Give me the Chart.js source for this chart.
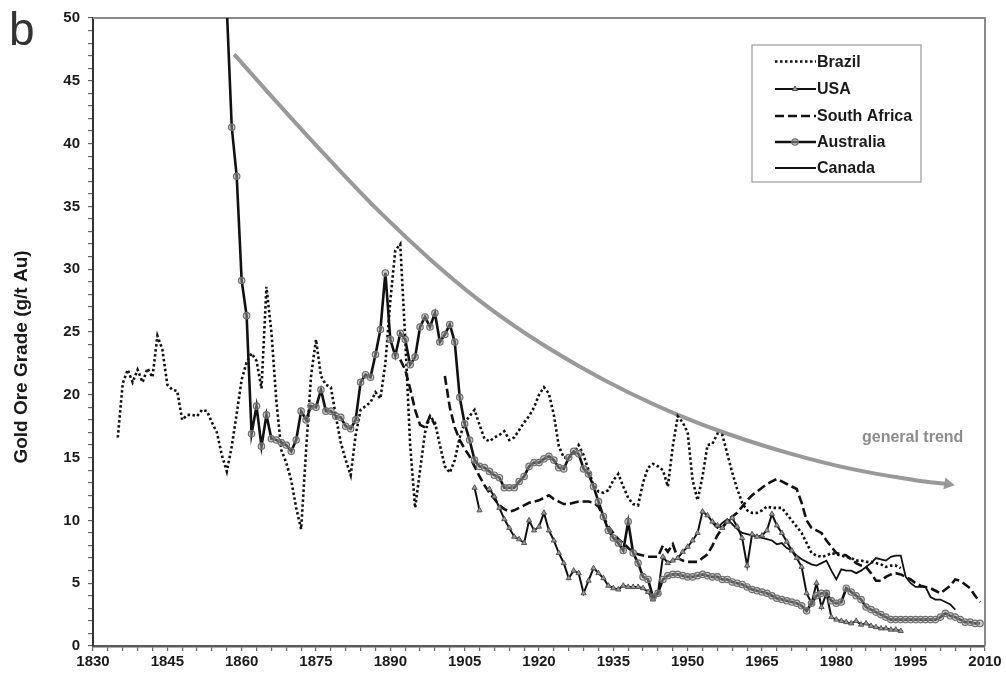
<!DOCTYPE html>
<html>
<head>
<meta charset="utf-8">
<title>Gold ore grade</title>
<script src="https://cdn.jsdelivr.net/npm/chart.js@4.4.0/dist/chart.umd.min.js"></script>
<style>
  html, body { margin: 0; padding: 0; background: #fff; }
  #wrap { width: 1006px; height: 677px; }
</style>
</head>
<body>
<div id="wrap"><canvas id="gradeChart" width="1006" height="677"></canvas></div>
<script>
// --- data (g/t Au, one value per year from the start year) ---
const brazilStart = 1835;
const brazilGrade = [
  16.6, 20.9, 22.0, 21.0, 22.0, 21.0, 22.1, 21.4, 24.7, 23.6,
  20.8, 20.4, 20.3, 18.0, 18.4, 18.4, 18.3, 18.8, 18.7, 17.8,
  17.0, 15.2, 13.9, 15.9, 18.5, 21.2, 22.6, 23.3, 22.7, 20.5,
  28.6, 25.0, 19.5, 15.6, 14.6, 13.2, 11.0, 9.3, 15.6, 21.5,
  24.4, 21.5, 20.8, 20.6, 18.3, 16.2, 14.8, 13.6, 16.8, 18.8,
  19.1, 19.4, 20.2, 19.7, 22.5, 27.5, 31.5, 32.0, 24.5, 16.0,
  11.0, 14.0, 17.0, 18.3, 17.8, 16.0, 14.3, 13.8, 14.8, 16.6,
  17.8, 18.3, 18.8, 17.6, 16.5, 16.3, 16.6, 16.8, 17.1, 16.4,
  16.6, 17.2, 17.8, 18.3, 19.0, 20.0, 20.6, 20.1, 18.4, 15.9,
  15.0, 15.0, 15.3, 16.0, 15.2, 14.0, 12.8, 12.3, 12.2, 12.4,
  13.2, 13.7, 12.7, 11.8, 11.3, 11.2, 13.0, 14.2, 14.5, 14.3,
  14.0, 12.7, 15.9, 18.3, 17.8, 17.0, 13.2, 11.6, 13.5, 16.0,
  16.1, 16.9, 16.8, 15.3, 13.8, 12.5, 11.4, 10.8, 10.6, 10.6,
  10.8, 11.1, 11.0, 11.0, 11.0, 10.5, 10.0, 9.5, 9.0, 8.2,
  7.4, 7.2, 7.1, 7.2, 7.4, 7.3, 7.2, 7.1, 7.0, 6.8,
  6.8, 6.7, 6.7, 6.6, 6.5, 6.3, 6.4, 6.4, 6.2
];

const usaStart = 1907;
const usaGrade = [
  12.6, 10.8, null, 12.5, 11.9, 11.0, 10.1, 9.4, 8.7, 8.5,
  8.2, 10.0, 9.2, 9.5, 10.6, 9.2, 8.4, 7.4, 6.6, 5.4,
  6.0, 5.8, 4.2, 5.2, 6.2, 5.8, 5.4, 4.8, 4.6, 4.5,
  4.8, 4.7, 4.7, 4.7, 4.6, 4.3, 3.7, 4.2, 7.1, 6.6,
  6.8, 7.0, 7.5, 7.9, 8.4, 9.0, 10.7, 10.4, 9.9, 9.6,
  9.4, 9.9, 10.2, 9.5, 8.6, 6.4, 8.9, 8.7, 8.8, 9.2,
  10.5, 9.6, 9.0, 8.3, 7.6, 7.0, 6.3, 4.2, 3.4, 5.0,
  3.1, 4.2, 2.3, 2.1, 2.0, 1.9, 1.8, 2.0, 1.7, 1.8,
  1.6, 1.5, 1.4, 1.4, 1.3, 1.3, 1.2
];

const southAfricaStart = 1892;
const southAfricaGrade = [
  22.8, 22.0, 20.5, 18.8, 17.6, 17.4, 18.3, 17.6, null, 21.5,
  19.0, 17.4, 16.4, 15.7, 15.1, 14.3, 13.5, 12.8, 12.2, 11.7,
  11.2, 10.9, 10.7, 10.8, 11.0, 11.2, 11.4, 11.5, 11.6, 11.8,
  12.0, 11.7, 11.5, 11.3, 11.3, 11.4, 11.5, 11.5, 11.5, 11.4,
  11.1, 10.3, 9.5, 9.0, 8.5, 8.2, 7.8, 7.5, 7.3, 7.2,
  7.1, 7.1, 7.1, 8.0, 7.5, 8.1, 7.0, 6.8, 6.7, 6.7,
  6.7, 7.0, 7.3, 8.0, 8.8, 9.4, 10.0, 10.3, 10.6, 11.1,
  11.6, 12.0, 12.3, 12.6, 12.9, 13.1, 13.3, 13.1, 12.9, 12.7,
  12.5, 11.4, 10.0, 9.4, 9.2, 9.0, 8.4, 7.9, 7.4, 7.3,
  7.2, 6.9, 6.6, 6.4, 6.3, 5.8, 5.2, 5.2, 5.5, 5.7,
  5.8, 5.7, 5.5, 5.3, 5.0, 4.8, 4.7, 4.6, 4.4, 4.2,
  4.5, 4.8, 5.3, 5.2, 4.9, 4.6, 4.0, 3.5
];

const australiaStart = 1857;
const australiaGrade = [
  50.8, 41.3, 37.4, 29.1, 26.3, 16.9, 19.1, 15.9, 18.4, 16.5,
  16.4, 16.2, 16.0, 15.5, 16.4, 18.7, 18.0, 19.1, 19.0, 20.4,
  18.7, 18.7, 18.3, 18.2, 17.5, 17.3, 18.0, 21.0, 21.6, 21.4,
  23.2, 25.2, 29.7, 24.4, 23.1, 24.9, 24.4, 22.4, 23.0, 25.4,
  26.2, 25.4, 26.5, 24.2, 24.8, 25.6, 24.2, 19.8, 17.7, 16.4,
  14.8, 14.3, 14.2, 13.9, 13.6, 13.4, 12.6, 12.6, 12.6, 13.1,
  13.5, 14.3, 14.6, 14.6, 14.9, 15.1, 14.8, 14.2, 14.1, 15.0,
  15.5, 15.3, 14.1, 13.7, 12.7, 11.5, 10.3, 9.2, 8.6, 8.2,
  7.6, 9.9, 7.4, 6.6, 5.5, 5.3, 3.9, 4.2, 5.3, 5.6,
  5.7, 5.7, 5.6, 5.5, 5.5, 5.6, 5.7, 5.6, 5.5, 5.5,
  5.3, 5.3, 5.1, 5.0, 4.9, 4.7, 4.5, 4.4, 4.3, 4.2,
  4.0, 3.8, 3.7, 3.6, 3.5, 3.4, 3.2, 2.8, 3.4, 4.0,
  4.2, 4.2, 3.6, 3.4, 3.5, 4.6, 4.3, 4.0, 3.7, 3.1,
  2.9, 2.7, 2.5, 2.3, 2.1, 2.1, 2.1, 2.1, 2.1, 2.1,
  2.1, 2.1, 2.1, 2.1, 2.3, 2.6, 2.4, 2.3, 2.1, 1.9,
  1.9, 1.8, 1.8
];

const canadaStart = 1955;
const canadaGrade = [
  9.8, 9.4, 9.8, 10.1, 9.7, 9.3, 9.0, 8.9, 8.8, 8.7,
  8.6, 8.5, 8.4, 8.1, 8.2, 7.8, 7.6, 7.2, 6.9, 6.7,
  6.5, 6.4, 6.6, 6.8, 6.0, 5.3, 6.1, 6.0, 6.0, 5.8,
  6.0, 6.3, 6.6, 7.0, 6.9, 6.8, 7.1, 7.2, 7.2, 5.5,
  5.0, 4.7, 4.7, 4.7, 3.9, 3.7, 3.7, 3.5, 3.3, 2.9
];

// hand-drawn "general trend" curve, points read along it
const trendYears = [1858.5, 1868, 1878, 1888, 1898, 1908, 1918, 1928, 1938, 1948, 1958, 1970, 1983, 1996, 2002.5];
const trendGrade = [47.1, 42.9, 38.6, 34.5, 30.8, 27.5, 24.7, 22.3, 20.2, 18.4, 16.9, 15.4, 14.1, 13.2, 12.9];

const xTickLabels = [1830, 1845, 1860, 1875, 1890, 1905, 1920, 1935, 1950, 1965, 1980, 1995, 2010];
const yTickLabels = [0, 5, 10, 15, 20, 25, 30, 35, 40, 45, 50];

const FONT = '"Liberation Sans", Arial, sans-serif';

function toPoints(start, values) {
    return values.map((v, i) => ({ x: start + i, y: v }));
}

// legend box drawn inside the plot, like the original
const insetLegend = {
    id: 'insetLegend',
    afterDraw(chart) {
        const ctx = chart.ctx;
        const box = { x: 752, y: 45, w: 169, h: 137 };
        ctx.save();
        ctx.fillStyle = '#fff';
        ctx.fillRect(box.x, box.y, box.w, box.h);
        ctx.strokeStyle = '#9a9a9a';
        ctx.lineWidth = 1.2;
        ctx.strokeRect(box.x, box.y, box.w, box.h);

        const rows = [61.5, 89, 116, 142, 168];
        const items = chart.data.datasets.filter(d => d.inLegend);
        items.forEach((ds, i) => {
            const y = rows[i];
            ctx.beginPath();
            ctx.setLineDash(ds.borderDash || []);
            ctx.lineWidth = ds.borderWidth;
            ctx.strokeStyle = ds.borderColor;
            ctx.moveTo(775, y);
            ctx.lineTo(816, y);
            ctx.stroke();
            ctx.setLineDash([]);
            if (ds.legendMarker) {
                ctx.fillStyle = ds.pointBackgroundColor;
                ctx.strokeStyle = ds.pointBorderColor;
                ctx.lineWidth = ds.pointBorderWidth;
                Chart.helpers.drawPoint(ctx, {
                    pointStyle: ds.pointStyle, radius: ds.pointRadius,
                    borderWidth: ds.pointBorderWidth, rotation: 0
                }, 795, y);
            }
            ctx.fillStyle = '#1a1a1a';
            ctx.font = 'bold 16px ' + FONT;
            ctx.textBaseline = 'middle';
            ctx.textAlign = 'left';
            ctx.fillText(ds.label, 817, y + 1);
        });
        ctx.restore();
    }
};

// frame, axis title, panel letter and trend label
const decorations = {
    id: 'decorations',
    beforeDatasetsDraw(chart) {
        const a = chart.chartArea;
        const ctx = chart.ctx;
        ctx.save();
        ctx.strokeStyle = '#8a8a8a';
        ctx.lineWidth = 2;
        ctx.beginPath();
        ctx.moveTo(a.left, a.top);
        ctx.lineTo(a.right, a.top);
        ctx.lineTo(a.right, a.bottom);
        ctx.stroke();
        ctx.restore();
    },
    afterDraw(chart) {
        const ctx = chart.ctx;
        ctx.save();
        ctx.fillStyle = '#333';
        ctx.font = '46px ' + FONT;
        ctx.textBaseline = 'alphabetic';
        ctx.textAlign = 'left';
        ctx.fillText('b', 9, 45);

        ctx.fillStyle = '#8c8c8c';
        ctx.font = 'bold 16px ' + FONT;
        ctx.textBaseline = 'middle';
        ctx.fillText('general trend', 862, 438);

        ctx.translate(22, 357);
        ctx.rotate(-Math.PI / 2);
        ctx.fillStyle = '#1a1a1a';
        ctx.font = 'bold 19px ' + FONT;
        ctx.textAlign = 'center';
        ctx.fillText('Gold Ore Grade (g/t Au)', 0, 0);
        ctx.restore();
    }
};

const ctx = document.getElementById('gradeChart');
const lastTrend = trendYears.length - 1;

new Chart(ctx, {
    type: 'line',
    data: {
        datasets: [
            {
                label: 'Brazil',
                inLegend: true,
                data: toPoints(brazilStart, brazilGrade),
                borderColor: '#111',
                borderWidth: 2.6,
                borderDash: [2.5, 2.5],
                pointRadius: 0,
                order: 4
            },
            {
                label: 'USA',
                inLegend: true,
                legendMarker: true,
                data: toPoints(usaStart, usaGrade),
                borderColor: '#111',
                borderWidth: 2,
                pointStyle: 'triangle',
                pointRadius: 3,
                pointBorderWidth: 1,
                pointBorderColor: '#555',
                pointBackgroundColor: '#9a9a9a',
                order: 2
            },
            {
                label: 'South Africa',
                inLegend: true,
                data: toPoints(southAfricaStart, southAfricaGrade),
                borderColor: '#111',
                borderWidth: 2.6,
                borderDash: [9, 4],
                pointRadius: 0,
                order: 3
            },
            {
                label: 'Australia',
                inLegend: true,
                legendMarker: true,
                data: toPoints(australiaStart, australiaGrade),
                borderColor: '#111',
                borderWidth: 2.6,
                pointStyle: 'circle',
                pointRadius: 3.2,
                pointBorderWidth: 1.2,
                pointBorderColor: '#707070',
                pointBackgroundColor: 'rgba(160,160,160,0.5)',
                order: 1
            },
            {
                label: 'Canada',
                inLegend: true,
                data: toPoints(canadaStart, canadaGrade),
                borderColor: '#111',
                borderWidth: 1.8,
                pointRadius: 0,
                order: 5
            },
            {
                label: 'general trend',
                data: trendYears.map((y, i) => ({ x: y, y: trendGrade[i] })),
                borderColor: '#999',
                borderWidth: 4,
                tension: 0.4,
                pointStyle: 'triangle',
                pointRadius: c => c.dataIndex === lastTrend ? 7 : 0,
                pointRotation: 100,
                pointBorderWidth: 0,
                pointBackgroundColor: '#999',
                pointBorderColor: '#999',
                order: 10
            }
        ]
    },
    options: {
        responsive: false,
        animation: false,
        devicePixelRatio: 1,
        layout: { padding: { top: 18, right: 21, left: 0, bottom: 0 } },
        plugins: {
            legend: { display: false },
            tooltip: { enabled: false }
        },
        scales: {
            x: {
                type: 'linear',
                min: 1830,
                max: 2010,
                afterFit: s => { s.height = 31; },
                border: { display: true, color: '#5a5a5a', width: 2.5 },
                grid: { drawOnChartArea: false, drawTicks: true, tickLength: 5, tickColor: '#666', lineWidth: 1.2 },
                ticks: {
                    stepSize: 3,
                    maxTicksLimit: 1000,
                    autoSkip: false,
                    maxRotation: 0,
                    padding: 2,
                    color: '#1a1a1a',
                    font: { family: FONT, size: 15, weight: 'bold' },
                    callback: v => xTickLabels.includes(v) ? String(v) : ''
                }
            },
            y: {
                min: 0,
                max: 50,
                afterFit: s => { s.width = 93; },
                border: { display: true, color: '#333', width: 2 },
                grid: { drawOnChartArea: false, drawTicks: true, tickLength: 5, tickColor: '#666', lineWidth: 1.2 },
                ticks: {
                    stepSize: 1,
                    maxTicksLimit: 1000,
                    autoSkip: false,
                    padding: 8,
                    color: '#1a1a1a',
                    font: { family: FONT, size: 15, weight: 'bold' },
                    callback: v => yTickLabels.includes(v) ? String(v) : ''
                }
            }
        }
    },
    plugins: [decorations, insetLegend]
});
</script>
</body>
</html>
